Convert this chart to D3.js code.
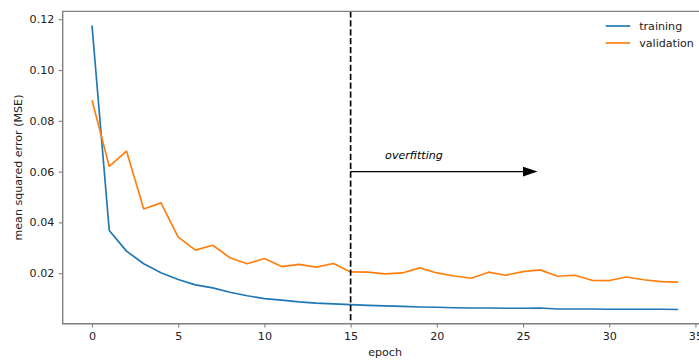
<!DOCTYPE html>
<html>
<head>
<meta charset="utf-8">
<script src="https://cdn.jsdelivr.net/npm/d3@7"></script>
<style>
  body { margin: 0; background: #fff; }
  svg { display: block; font-family: "DejaVu Sans", sans-serif; }
</style>
</head>
<body>
<div id="chart"></div>
<script>
// values
const epochs = d3.range(0, 35);
const training = [0.1175, 0.0368, 0.0287, 0.0237, 0.0202, 0.0175, 0.0154, 0.0142, 0.0125, 0.0111,
  0.0100, 0.0094, 0.0087, 0.0082, 0.0079, 0.0076, 0.0073, 0.0071, 0.0069, 0.0067,
  0.0066, 0.0064, 0.0063, 0.0063, 0.0062, 0.0062, 0.0063, 0.0059, 0.0059, 0.0059,
  0.0058, 0.0058, 0.0058, 0.0058, 0.0057];
const validation = [0.0881, 0.0621, 0.0681, 0.0453, 0.0477, 0.0342, 0.0291, 0.0310, 0.0261, 0.0237,
  0.0258, 0.0226, 0.0235, 0.0224, 0.0238, 0.0205, 0.0204, 0.0197, 0.0201, 0.0221,
  0.0201, 0.0189, 0.0180, 0.0204, 0.0192, 0.0206, 0.0213, 0.0188, 0.0192, 0.0172,
  0.0171, 0.0185, 0.0174, 0.0167, 0.0165];
const xTicks = [0, 5, 10, 15, 20, 25, 30, 35];
const yTicks = [0.02, 0.04, 0.06, 0.08, 0.10, 0.12];
const seriesNames = ["training", "validation"];
const colors = ["#1f77b4", "#ff7f0e"];
const cutoff = 15;
const arrowFrom = 15, arrowTo = 25, arrowY = 0.06;
const noteX = 17, noteY = 0.065, noteText = "overfitting";

const W = 699, H = 360;
const margin = {top: 11.4, left: 62.7, bottom: 36.3};
const plotRight = 707.5;   // axes run past the picture edge
const fs = 11.1;

const svg = d3.select("#chart").append("svg")
  .attr("width", W).attr("height", H);

// matplotlib style 5% margins
const xPad = (d3.max(epochs) - d3.min(epochs)) * 0.05;
const allY = training.concat(validation);
const yPad = (d3.max(allY) - d3.min(allY)) * 0.05;

const x = d3.scaleLinear()
  .domain([d3.min(epochs) - xPad, d3.max(epochs) + xPad])
  .range([margin.left, plotRight]);
const y = d3.scaleLinear()
  .domain([d3.min(allY) - yPad, d3.max(allY) + yPad])
  .range([H - margin.bottom, margin.top]);

const line = d3.line()
  .x((d, i) => x(epochs[i]))
  .y(d => y(d));

[training, validation].forEach((s, k) => {
  svg.append("path")
    .attr("d", line(s))
    .attr("fill", "none")
    .attr("stroke", colors[k])
    .attr("stroke-width", 1.67)
    .attr("stroke-linejoin", "round");
});

// cutoff line
svg.append("line")
  .attr("x1", x(cutoff)).attr("x2", x(cutoff))
  .attr("y1", y.range()[1]).attr("y2", y.range()[0])
  .attr("stroke", "#000")
  .attr("stroke-width", 1.67)
  .attr("stroke-dasharray", "6.2,2.7");

// arrow
const ax0 = x(arrowFrom), ax1 = x(arrowTo), ay = y(arrowY);
svg.append("line")
  .attr("x1", ax0).attr("x2", ax1)
  .attr("y1", ay).attr("y2", ay)
  .attr("stroke", "#000").attr("stroke-width", 1.4);
svg.append("path")
  .attr("d", `M${ax1},${ay - 4.8}L${ax1 + 14.5},${ay}L${ax1},${ay + 4.8}Z`)
  .attr("fill", "#000");

svg.append("text")
  .attr("x", x(noteX)).attr("y", y(noteY))
  .attr("font-size", fs)
  .attr("font-style", "italic")
  .attr("fill", "#000")
  .text(noteText);

// axes
const spine = "#808080";
const xAxis = svg.append("g")
  .attr("transform", `translate(0,${y.range()[0]})`)
  .call(d3.axisBottom(x).tickValues(xTicks).tickFormat(d3.format("d"))
    .tickSizeOuter(0).tickSize(3.9).tickPadding(4.5));
const yAxis = svg.append("g")
  .attr("transform", `translate(${x.range()[0]},0)`)
  .call(d3.axisLeft(y).tickValues(yTicks).tickFormat(d3.format(".2f"))
    .tickSizeOuter(0).tickSize(3.9).tickPadding(4.5));
[xAxis, yAxis].forEach(g => {
  g.select(".domain").remove();
  g.selectAll("line").attr("stroke", spine).attr("stroke-width", 1.1);
  g.selectAll("text").attr("font-size", fs).attr("fill", "#222")
    .attr("font-family", "DejaVu Sans");
});

// spines: left, bottom, top
svg.append("path")
  .attr("d", `M${plotRight},${y.range()[1]}H${x.range()[0]}V${y.range()[0]}H${plotRight}`)
  .attr("fill", "none")
  .attr("stroke", spine)
  .attr("stroke-width", 1.4);

// axis labels
svg.append("text")
  .attr("x", (x.range()[0] + x.range()[1]) / 2)
  .attr("y", H - 4)
  .attr("text-anchor", "middle")
  .attr("font-size", fs).attr("fill", "#222")
  .text("epoch");
svg.append("text")
  .attr("transform", `translate(22,${(y.range()[0] + y.range()[1]) / 2}) rotate(-90)`)
  .attr("text-anchor", "middle")
  .attr("font-size", fs).attr("fill", "#222")
  .text("mean squared error (MSE)");

// legend
const legend = svg.append("g").attr("transform", "translate(605.7,26)");
seriesNames.forEach((name, i) => {
  const g = legend.append("g").attr("transform", `translate(0,${i * 17})`);
  g.append("line")
    .attr("x1", 0).attr("x2", 24.5)
    .attr("stroke", colors[i]).attr("stroke-width", 1.67);
  g.append("text")
    .attr("x", 33.5).attr("y", 4)
    .attr("font-size", fs).attr("fill", "#222")
    .text(name);
});
</script>
</body>
</html>
